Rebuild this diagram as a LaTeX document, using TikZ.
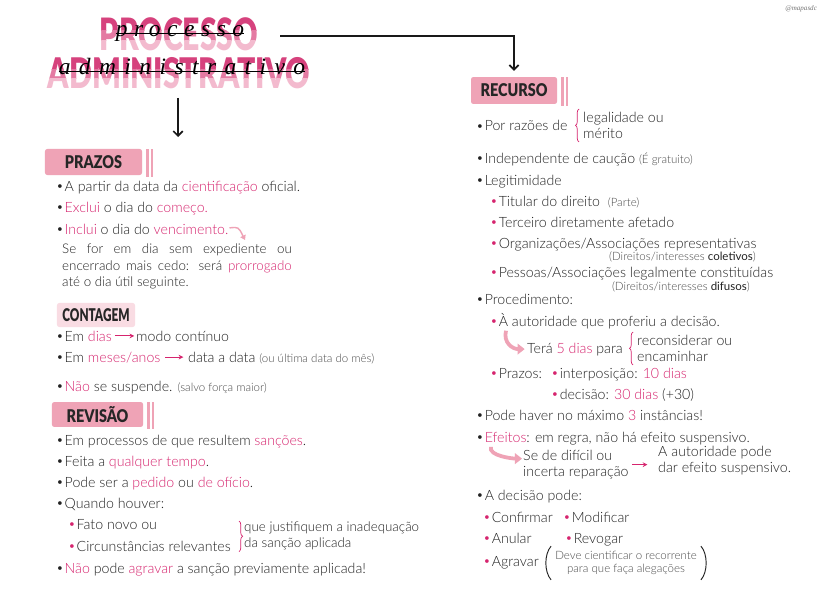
\documentclass[tikz,border=0pt]{standalone}
\usepackage{fontspec}
\setmainfont{Lato Light}[BoldFont=Lato Bold]
\newfontfamily\regfam{Lato}
\newfontfamily\heavyfam{Lato Black}
\newfontfamily\handA{Liberation Serif}[LetterSpace=28]
\newfontfamily\handB{Liberation Serif}[LetterSpace=36]
\newfontfamily\handC{Liberation Serif}
\usepackage{graphicx}
\usetikzlibrary{arrows.meta, positioning, decorations.pathreplacing}
\definecolor{HotPink}{HTML}{D6246E}
\definecolor{HdrPink}{HTML}{EFA3B6}
\definecolor{SoftPink}{HTML}{F9DCE3}
\definecolor{Ink}{HTML}{222222}
\definecolor{NoteGray}{HTML}{4A4A4A}
\definecolor{TitleDark}{HTML}{D6427D}
\definecolor{TitleMid}{HTML}{E47AA2}
\definecolor{TitleLight}{HTML}{F3BACE}

\newcommand{\hl}[1]{\textcolor{HotPink}{#1}}
\newcommand{\bdot}{\raisebox{0.15ex}{\scalebox{0.7}{\regfam\textbullet}}\hspace{1.5pt}}
\newcommand{\pdot}{{\color{HotPink}\bdot}}
\newcommand{\nt}[1]{{\fontsize{9.8}{11}\selectfont\color{NoteGray}#1}}
\newcommand{\hdrtext}[2][0.82]{\scalebox{#1}[1]{\heavyfam\fontsize{15}{15}\selectfont #2}}
% two thin bars to the right of a header box
\newcommand{\hdrbars}[1]{%
  \fill[HdrPink] ([shift={(4,0)}]#1.north east) rectangle ([shift={(6.5,1.5)}]#1.south east);
  \fill[HdrPink] ([shift={(8.5,0)}]#1.north east) rectangle ([shift={(11,1.5)}]#1.south east);}

\tikzset{
  titleword/.style={anchor=north, inner sep=0pt, font=\heavyfam},
  handword/.style={anchor=base, inner sep=0pt, text=black},
  strike/.style={draw=black, line width=0.4pt},
  flowarrow/.style={-{Straight Barb[length=4pt, width=8pt]}, line width=1.5pt, draw=black!90},
  hdrbox/.style={fill=HdrPink, rounded corners=2pt, inner sep=0pt, text=black!85},
  softbox/.style={fill=SoftPink, rounded corners=2pt, inner sep=0pt, text=black!85},
  txt/.style={anchor=base west, inner sep=0pt, text=Ink, font=\fontsize{12.1}{13.6}\selectfont},
  para/.style={anchor=north west, inner sep=0pt, text=Ink, align=justify,
               text width=196pt, font=\fontsize{11.4}{14}\selectfont},
  note/.style={anchor=base east, inner sep=0pt, text=NoteGray, font=\fontsize{9.8}{11}\selectfont},
  pinkarrow/.style={-{Stealth[length=4pt, width=4pt]}, line width=1pt, draw=HotPink},
  fatarrow/.style={-{Triangle[length=6pt, width=9pt]}, line width=3.2pt, draw=HdrPink},
  thinarrow/.style={-{Triangle[length=4pt, width=5pt]}, line width=1.2pt, draw=HdrPink},
  pinkbrace/.style={decorate, decoration={brace, amplitude=3pt}, draw=HotPink, line width=0.6pt},
  paren/.style={draw=Ink, line width=0.8pt},
}

\begin{document}
\begin{tikzpicture}[x=0.03cm, y=-0.03cm]
  \useasboundingbox[fill=white] (0,0) rectangle (824,593);

  % title, shaded top to bottom in three bands
  \foreach \word/\w/\h/\y/\hp in {PROCESSO/135pt/28pt/17/33, ADMINISTRATIVO/224pt/26.5pt/57/31}{
    \foreach \a/\b/\shade/\k in {-0.2/0.4/TitleDark/1, 0.4/0.7/TitleMid/2, 0.7/1.2/TitleLight/3}{
      \begin{scope}
        \clip (0,\y+\a*\hp) rectangle (824,\y+\b*\hp);
        \node[titleword, text=\shade] (\word-\k) at (179,\y) {\resizebox{\w}{\h}{\word}};
      \end{scope}
    }
  }
  \node[handword, font=\handA\itshape\fontsize{20}{20}\selectfont] (scr1) at (180,37) {processo};
  \node[handword, font=\handB\itshape\fontsize{20}{20}\selectfont] (scr2) at (182,75) {administrativo};
  \draw[strike] ([yshift=3.4pt]scr1.base west) -- ([yshift=3.4pt]scr1.base east);
  \draw[strike] ([yshift=3.4pt]scr2.base west) -- ([yshift=3.4pt]scr2.base east);
  \node[anchor=east, font=\handC\itshape\fontsize{6}{6}\selectfont, text=black!55] (mark) at (821,9) {@mapasdc};

  \node[hdrbox, minimum width=82.8pt, minimum height=22.2pt] (prazos) at (93.5,162) {\hdrtext{PRAZOS}};
  \hdrbars{prazos}
  \node[hdrbox, minimum width=73.4pt, minimum height=23pt] (recurso) at (514,90.5) {\hdrtext{RECURSO}};
  \hdrbars{recurso}

  \coordinate (downend) at (178,137);
  \draw[flowarrow] ([shift={(-1,9)}]ADMINISTRATIVO-1.south) -- (downend);
  \draw[flowarrow] ([shift={(22,2.5)}]PROCESSO-1.east) -| ([yshift=5pt]recurso.north);

  % PRAZOS
  \node[txt] (p1) at (57,191) {\bdot A partir da data da \hl{cientificação} oficial.};
  \node[txt] (p2) at (57,212) {\bdot \hl{Exclui} o dia do \hl{começo.}};
  \node[txt] (p3) at (57,234) {\bdot \hl{Inclui} o dia do \hl{vencimento.}};
  \coordinate (vcend) at (245,240);
  \draw[thinarrow] ([shift={(1,-1)}]p3.east) .. controls +(9,-1) .. (vcend);
  \node[para] (p4) at (62,244) {Se for em dia sem expediente ou\linebreak
    encerrado mais cedo: será \hl{prorrogado}\linebreak até o dia útil seguinte.};

  % CONTAGEM
  \node[softbox, minimum width=66.6pt, minimum height=20.5pt] (contagem) at (96,315) {\hdrtext[0.67]{CONTAGEM}};
  \node[txt] (c1) at (57,341) {\bdot Em \hl{dias}};
  \node[txt] (c1b) at (136,341) {modo contínuo};
  \draw[pinkarrow] ([xshift=2.5pt]c1.east) -- ([xshift=-1.5pt]c1b.west |- c1.east);
  \node[txt] (c2) at (57,362) {\bdot Em \hl{meses/anos}};
  \node[txt] (c2b) at (188,362) {data a data \nt{(ou última data do mês)}};
  \draw[pinkarrow] ([xshift=4pt]c2.east) -- ([xshift=-4pt]c2b.west |- c2.east);
  \node[txt] (c3) at (57,391) {\bdot \hl{Não} se suspende. \nt{(salvo força maior)}};

  % REVISAO
  \node[hdrbox, minimum width=77.7pt, minimum height=21.3pt] (revisao) at (97.5,414.5) {\hdrtext{REVISÃO}};
  \hdrbars{revisao}
  \node[txt] (r1) at (57,445) {\bdot Em processos de que resultem \hl{sanções}.};
  \node[txt] (r2) at (57,466) {\bdot Feita a \hl{qualquer tempo}.};
  \node[txt] (r3) at (57,487) {\bdot Pode ser a \hl{pedido} ou \hl{de ofício}.};
  \node[txt] (r4) at (57,508) {\bdot Quando houver:};
  \node[txt] (r5) at (69,529) {\pdot Fato novo ou};
  \node[txt] (r6) at (69,551) {\pdot Circunstâncias relevantes};
  \node[txt, anchor=north west, align=left, font=\fontsize{11.4}{13.6}\selectfont] (r7) at (244,522)
    {que justifiquem a inadequação\\da sanção aplicada};
  \draw[pinkbrace] ([shift={(-5,-1)}]r7.north west) -- ([shift={(-5,1)}]r7.south west);
  \node[txt] (r8) at (57,573) {\bdot \hl{Não} pode \hl{agravar} a sanção previamente aplicada!};

  % RECURSO
  \node[txt] (q1) at (477,131) {\bdot Por razões de};
  \node[txt, anchor=north west, align=left] (q1a) at (583,112) {legalidade ou\\mérito};
  \draw[pinkbrace] ([shift={(-4,3)}]q1a.south west) -- ([shift={(-4,-3)}]q1a.north west);
  \node[txt] (q2) at (477,163) {\bdot Independente de caução \nt{(É gratuito)}};
  \node[txt] (q3) at (477,185) {\bdot Legitimidade};
  \node[txt] (q4) at (491,206) {\pdot Titular do direito \;\nt{(Parte)}};
  \node[txt] (q5) at (491,227) {\pdot Terceiro diretamente afetado};
  \node[txt] (q6) at (491,248) {\pdot Organizações/Associações representativas};
  \node[note] (q6n) at (756,260) {(Direitos/interesses {\regfam\color{Ink}coletivos})};
  \node[txt] (q7) at (491,277) {\pdot Pessoas/Associações legalmente constituídas};
  \node[note] (q7n) at (750,290) {(Direitos/interesses {\regfam\color{Ink}difusos})};
  \node[txt] (q8) at (477,304) {\bdot Procedimento:};
  \node[txt] (q9) at (491,326) {\pdot À autoridade que proferiu a decisão.};
  \node[txt] (q10) at (527,353) {Terá \hl{5 dias} para};
  \node[txt, anchor=north west, align=left] (q10a) at (637,335) {reconsiderar ou\\encaminhar};
  \draw[pinkbrace] ([shift={(-4,3)}]q10a.south west) -- ([shift={(-4,-3)}]q10a.north west);
  \draw[fatarrow] ([shift={(15,2)}]q9.south west) .. controls +(-3,12) and +(-12,0) .. ([xshift=-2pt]q10.west);
  \node[txt] (q11) at (491,378) {\pdot Prazos:};
  \node[txt] (q11a) at (552,378) {\pdot interposição: \hl{10 dias}};
  \node[txt] (q11b) at (552,399) {\pdot decisão: \hl{30 dias} (+30)};
  \node[txt] (q12) at (477,420) {\bdot Pode haver no máximo \hl{3} instâncias!};
  \node[txt] (q13) at (477,442) {\bdot \hl{Efeitos}: em regra, não há efeito suspensivo.};
  \node[txt, anchor=north west, align=left] (q14) at (523,450) {Se de difícil ou\\incerta reparação};
  \node[txt, anchor=north west, align=left] (q14a) at (658,446) {A autoridade pode\\dar efeito suspensivo.};
  \draw[pinkarrow] ([xshift=3pt]q14.east) -- ([xshift=-9pt]q14a.west |- q14.east);
  \draw[fatarrow] ([shift={(14,2)}]q13.south west) .. controls +(-3,9) and +(-9,0) .. ([shift={(-1,-6)}]q14.west);
  \node[txt] (q15) at (477,500) {\bdot A decisão pode:};
  \node[txt] (d1) at (484,522) {\pdot Confirmar};
  \node[txt] (d2) at (564,522) {\pdot Modificar};
  \node[txt] (d3) at (484,543) {\pdot Anular};
  \node[txt] (d4) at (566,543) {\pdot Revogar};
  \node[txt] (d5) at (484,566) {\pdot Agravar};
  \node[note, anchor=center, align=center] (d5n) at (626,563) {Deve cientificar o recorrente\\para que faça alegações};
  \draw[paren] ([shift={(-4,-5)}]d5n.north west) .. controls +(-7,8) and +(-7,-8) .. ([shift={(-4,5)}]d5n.south west);
  \draw[paren] ([shift={(4,-5)}]d5n.north east) .. controls +(7,8) and +(7,-8) .. ([shift={(4,5)}]d5n.south east);
\end{tikzpicture}
\end{document}
